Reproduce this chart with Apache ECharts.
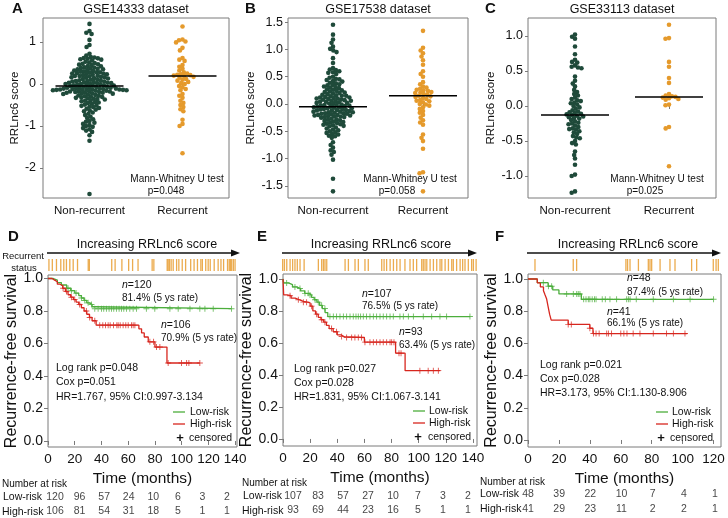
<!DOCTYPE html>
<html><head><meta charset="utf-8">
<script src="https://cdn.jsdelivr.net/npm/echarts@6/dist/echarts.min.js"></script>
<style>html,body{margin:0;padding:0;background:#fff}#c{width:728px;height:518px}</style>
</head><body><div id="c"></div>
<script>
// ---------------- DATA ----------------
const topCategories = ['Non-recurrent', 'Recurrent'];
const aNonRec = [1.43,1.26,1.22,1.19,1.05,0.93,0.88,0.72,0.68,
 0.64,0.63,0.62,0.61,0.60,0.59,0.58,0.56,
 0.53,0.51,0.50,0.48,0.47,0.46,0.45,
 0.43,0.42,0.40,0.39,0.38,0.37,0.36,0.35,0.35,
 0.33,0.32,0.31,0.30,0.29,0.28,0.28,0.27,0.26,0.25,0.25,
 0.24,0.23,0.22,0.21,0.20,0.19,0.19,0.18,0.17,0.16,0.16,0.15,
 0.14,0.13,0.12,0.11,0.10,0.09,0.08,0.07,0.07,0.06,0.06,0.05,
 0.04,0.03,0.03,0.02,0.02,0.01,0.00,0.00,-0.01,-0.01,-0.02,-0.03,-0.03,-0.04,-0.04,-0.05,
 -0.06,-0.07,-0.07,-0.08,-0.08,-0.09,-0.09,-0.10,-0.10,-0.11,-0.11,-0.12,-0.12,-0.12,-0.13,-0.13,-0.13,-0.14,-0.14,-0.14,-0.15,-0.15,
 -0.16,-0.16,-0.17,-0.17,-0.18,-0.18,-0.19,-0.19,-0.20,-0.21,-0.21,-0.22,-0.23,-0.23,-0.24,-0.25,
 -0.26,-0.27,-0.28,-0.29,-0.30,-0.31,-0.32,-0.33,-0.34,-0.35,
 -0.36,-0.37,-0.39,-0.40,-0.41,-0.43,-0.44,-0.45,
 -0.47,-0.49,-0.51,-0.52,-0.54,-0.55,
 -0.57,-0.59,-0.61,-0.63,-0.65,
 -0.68,-0.71,-0.74,-0.78,-0.81,-0.84,
 -0.88,-0.90,-0.92,-0.95,-0.98,-1.00,-1.02,-1.05,
 -1.08,-1.11,-1.14,-1.22,-1.35,-2.62];
const aRec = [1.37,1.06,1.04,1.01,0.99,0.86,0.80,0.62,0.58,0.55,0.45,0.41,0.36,0.32,0.28,0.25,0.23,0.22,0.21,0.20,0.19,0.17,0.15,0.12,0.10,0.08,0.05,0.02,0.00,-0.05,-0.08,-0.12,-0.15,-0.24,-0.28,-0.33,-0.40,-0.45,-0.50,-0.55,-0.60,-0.65,-0.85,-0.95,-1.00,-1.65];
const bNonRec = [1.45,1.27,1.18,1.12,1.05,1.01,0.98,0.95,0.84,0.75,
 0.66,0.63,0.62,0.60,0.58,0.57,0.55,
 0.50,0.48,0.46,0.45,0.44,0.42,0.41,0.39,0.38,0.36,
 0.35,0.34,0.32,0.31,0.30,0.29,0.27,0.26,0.25,0.24,0.23,0.22,0.21,0.20,0.19,0.18,0.17,
 0.16,0.15,0.15,0.14,0.13,0.12,0.12,0.11,0.10,0.10,0.09,0.08,0.08,0.07,0.06,0.06,0.05,0.04,0.04,0.03,0.02,0.02,0.01,0.00,
 -0.01,-0.02,-0.02,-0.03,-0.03,-0.04,-0.05,-0.05,-0.06,-0.06,-0.07,-0.08,-0.08,-0.09,-0.09,-0.10,-0.11,-0.11,-0.12,-0.12,-0.13,-0.14,-0.14,-0.15,-0.15,-0.16,-0.17,-0.17,-0.18,-0.18,-0.19,-0.20,-0.20,-0.21,-0.21,-0.22,-0.23,-0.23,-0.24,-0.24,-0.25,
 -0.27,-0.28,-0.29,-0.30,-0.31,-0.32,-0.33,-0.34,-0.35,-0.36,-0.37,-0.38,-0.39,-0.40,-0.41,-0.43,-0.45,
 -0.47,-0.48,-0.50,-0.52,-0.53,-0.55,-0.56,-0.58,-0.59,-0.62,
 -0.70,-0.75,-0.80,-0.85,-0.88,-0.93,-1.02,-1.37,-1.60];
const bRec = [1.34,1.03,0.98,0.93,0.87,0.80,0.72,0.60,0.55,0.50,0.40,0.36,0.32,0.30,0.28,0.26,0.25,0.24,0.22,0.21,0.20,0.18,0.17,0.15,0.14,0.13,0.11,0.09,0.07,0.06,0.05,0.03,0.00,-0.01,-0.03,-0.06,-0.09,-0.13,-0.16,-0.20,-0.25,-0.30,-0.34,-0.38,-0.56,-0.62,-0.68,-0.82,-1.25,-1.27,-1.60];
const cNonRec = [1.02,0.99,0.96,0.85,0.74,0.66,0.63,0.62,0.58,0.56,0.55,0.54,0.42,0.36,0.32,0.28,0.23,0.20,0.17,0.15,0.12,0.10,0.08,0.07,0.05,0.04,0.02,0.00,-0.02,-0.04,-0.06,-0.08,-0.09,-0.10,-0.11,-0.12,-0.13,-0.14,-0.15,-0.16,-0.17,-0.18,-0.20,-0.22,-0.24,-0.25,-0.26,-0.28,-0.30,-0.32,-0.33,-0.34,-0.36,-0.38,-0.40,-0.43,-0.45,-0.46,-0.50,-0.53,-0.55,-0.65,-0.70,-0.75,-0.84,-0.98,-1.00,-1.22,-1.24];
const cRec = [1.16,0.97,0.96,0.63,0.56,0.40,0.33,0.17,0.15,0.14,0.13,0.12,0.11,0.10,0.09,0.02,0.01,-0.30,-0.32,-0.86];
const aMeans = [-0.05, 0.19];
const bMeans = [-0.05, 0.15];
const cMeans = [-0.13, 0.13];
const aTicks = [-2, -1, 0, 1];
const bTicks = [-1.5, -1, -0.5, 0, 0.5, 1, 1.5];
const cTicks = [-1, -0.5, 0, 0.5, 1];

const kmYTicks = [0, 0.2, 0.4, 0.6, 0.8, 1.0];
const dXTicks = [0, 20, 40, 60, 80, 100, 120, 140];
const eXTicks = [0, 20, 40, 60, 80, 100, 120, 140];
const fXTicks = [0, 20, 40, 60, 80, 100, 120];

// Kaplan-Meier curves (time, survival) and censor times
const dLowT = [0,4,7,10,14,17,20,23,25,27,29,31,33,35,137.3];
const dLowS = [1,0.99,0.975,0.96,0.94,0.925,0.91,0.895,0.88,0.865,0.85,0.84,0.826,0.814,0.814];
const dLowCens = [15,17.5,21,25,27.5,30,32.5,35,37.5,40,41.7,43.7,45.7,47.5,49.2,51.2,53.2,55,56.7,58.7,61.2,63.7,66.2,73.6,79.9,91.2,97.4,106.2,113.6,117.4,123.6,137.3];
const dHighT = [0,3,5,7,9,11,13,15,17,19,21,23,25,27,29,31,33,36,68,70,72,75,80,89,113.6];
const dHighS = [1,0.99,0.98,0.965,0.955,0.94,0.92,0.9,0.885,0.87,0.855,0.84,0.82,0.8,0.78,0.76,0.74,0.713,0.69,0.665,0.64,0.61,0.578,0.48,0.48];
const dHighCens = [11.3,13.8,17.5,20,23.7,28.7,31.2,35,38.7,41,43,45,46.5,49,51.5,52.5,54,56.2,58.2,60,62.5,63.7,65,76.2,79,81.2,83.7,89.9,99.9,103.7,105.4,113.6];

const eLowT = [0,0.5,4,7,10,13,16,19,21,23,25,27,29,31,33,138];
const eLowS = [1,0.975,0.965,0.95,0.94,0.925,0.91,0.9,0.885,0.87,0.855,0.835,0.815,0.79,0.765,0.765];
const eLowCens = [2.7,8.8,12.5,16.2,18.6,19.9,23.6,26,28.5,30.9,34.6,37.1,39.5,42,44.5,46.9,49.4,51.8,53.8,55.5,57.2,59.2,61.6,64.1,66.6,69,71.5,73.9,76.4,78.9,81.3,86.2,88.7,92.4,96.1,103.4,109.6,115.7,120.6,137.8];
const eHighT = [0,0.5,3,6,9,12,15,18,20,22,24,26,28,30,32,34,37,40,43,45,60,83,90,116];
const eHighS = [1,0.9,0.895,0.88,0.87,0.86,0.855,0.85,0.83,0.8,0.78,0.76,0.745,0.73,0.71,0.69,0.67,0.65,0.64,0.634,0.605,0.536,0.427,0.427];
const eHighCens = [5.2,11.3,15,17.4,21.1,24.8,28.5,30.9,35.8,39.5,43.2,46.9,50.6,53,55.5,57.9,60.4,64.1,66.6,69,71.5,73.9,76.4,78.9,80.1,81.8,85.5,87,100.9,107,110.8,114.5];

const fLowT = [0,6,13,16,20,34.5,120];
const fLowS = [1,0.977,0.955,0.932,0.907,0.874,0.874];
const fLowCens = [9.9,13.2,15.3,25,29.3,31.5,32.5,33.6,36,37.5,39,40,41.5,43,44,48,50,53,57.3,63.8,64.9,66,70,81,94,104.8,120];
const fHighT = [0,6,8,10,11,12,13,14,15,26,40,42,103];
const fHighS = [1,0.976,0.951,0.927,0.902,0.878,0.829,0.78,0.745,0.718,0.694,0.661,0.661];
const fHighCens = [26,28,40,42.3,44,46,50.9,52,54,60,62,64,68,72.4,81,89.6,94,101.5];

// recurrent-status strip (position along increasing score, %)
const dStatus = [0.5,2.3,4.5,6.8,8.4,9.8,11.6,13.4,15.7,21.4,22,33.9,35.7,39.3,42.9,45,47.9,55.4,56.3,63.4,63.9,64.6,65.5,66.6,68.4,69.6,71.4,73.2,75.9,77.7,79.5,81.3,82.1,83.9,85.2,86.3,88.4,90.5,92,93.4,95.5,96.4,97,97.7,98.6,99.5];
const eStatus = [0.5,1.4,2.6,4.3,5.6,6.8,8,9.4,11.5,18.8,20.5,21.4,22.2,23.1,32.5,34.2,37.6,39.3,42.7,44.4,51.3,52.5,53.8,55.6,57.3,59,60.7,63.2,65.8,67.5,69.2,71.8,72.6,73.5,74.4,76.1,77.8,79.5,81.2,82.1,83.8,85.5,87.2,88,89.7,91.5,92.8,94,95.7,97.4,98.3,99.7];
const fStatus = [0.9,21.4,23.2,49.6,50.5,51.8,56.3,61.6,62.5,63.4,67.9,73.2,75.9,84.8,87.5,96.4,97.9,99.1];

// number at risk
const dRiskTimes = [0,20,40,60,80,100,120,140];
const dLowRisk = [120,96,57,24,10,6,3,2];
const dHighRisk = [106,81,54,31,18,5,1,1];
const eRiskTimes = [0,20,40,60,80,100,120,140];
const eLowRisk = [107,83,57,27,10,7,3,2];
const eHighRisk = [93,69,44,23,16,5,1,1];
const fRiskTimes = [0,20,40,60,80,100,120];
const fLowRisk = [48,39,22,10,7,4,1];
const fHighRisk = [41,29,23,11,2,2,1];

// ---------------- STYLE / LAYOUT ----------------
const FONT = '"Liberation Sans", Arial, Helvetica, sans-serif';
const FRAME = '#7a7a7a';
const INK = '#111';
const DOT_COLORS = ['#1f4a3a', '#e59a2c'];
const GREEN = '#4cae3c', RED = '#d7261e', STRIP = '#e9a23b';
const DOT = 4.6, DOT_GAP = 3.6, MEAN_HALF_PX = 34;
const PLUS = 'path://M3.4,0H4.6V3.4H8V4.6H4.6V8H3.4V4.6H0V3.4H3.4Z';

const opt = {animation:false, backgroundColor:'#fff', grid:[], xAxis:[], yAxis:[], series:[], graphic:{elements:[]}};
const GR = opt.graphic.elements;

function T(x, y, text, size, o) {
  o = o || {};
  const st = {text, fontSize:size, fontFamily:FONT, fontWeight:o.bold?'bold':'normal', fill:o.color||INK,
    align:o.align||'left', verticalAlign:'middle', textAlign:o.align||'left', textVerticalAlign:'middle'};
  if (o.rich) st.rich = o.rich;
  GR.push({type:'text', x, y, silent:true, z:50, style:st});
}
function Lseg(x1,y1,x2,y2,color,w){ GR.push({type:'line', silent:true, z:50, shape:{x1,y1,x2,y2}, style:{stroke:color, lineWidth:w}}); }

function swarm(vals, center, pxY, pxX, d) {
  const pts = vals.map(v => ({v, y:v*pxY})).sort((a,b)=>b.v-a.v);
  const placed = [], out = [];
  pts.forEach(p => {
    const cands = [0];
    placed.forEach(q => { const dy = Math.abs(q.y-p.y); if (dy < d) { const dx = Math.sqrt(d*d-dy*dy); cands.push(q.x+dx, q.x-dx); } });
    cands.sort((a,b)=>Math.abs(a)-Math.abs(b) || a-b);
    let x = 0;
    for (const c of cands) { if (placed.every(q => (q.x-c)*(q.x-c)+(q.y-p.y)*(q.y-p.y) >= d*d-1e-6)) { x = c; break; } }
    placed.push({x, y:p.y});
    out.push([center + x/pxX, p.v]);
  });
  return out;
}
function survAt(T_, S_, t) { let s = S_[0]; for (let i=0;i<T_.length;i++){ if (T_[i] <= t) s = S_[i]; } return s; }

// ---------------- TOP PANELS ----------------
const tops = [
  {vals:[aNonRec,aRec], means:aMeans, ticks:aTicks, dec:0, title:'GSE14333 dataset', p:'p=0.048', letter:'A',
   L:{left:43, top:18, width:186, height:180, ymin:-2.714, ymax:1.571, nameGap:20, lm:7, letterX:12, mwX:177, pX:166}},
  {vals:[bNonRec,bRec], means:bMeans, ticks:bTicks, dec:1, title:'GSE17538 dataset', p:'p=0.058', letter:'B',
   L:{left:288, top:18, width:180, height:180, ymin:-1.722, ymax:1.575, nameGap:31, lm:5, letterX:245, mwX:410, pX:397}},
  {vals:[cNonRec,cRec], means:cMeans, ticks:cTicks, dec:1, title:'GSE33113 dataset', p:'p=0.025', letter:'C',
   L:{left:528, top:18, width:188, height:180, ymin:-1.314, ymax:1.257, nameGap:31, lm:5, letterX:485, mwX:657, pX:645}}
];
tops.forEach(tp => {
  const L = tp.L;
  const gi = opt.grid.length;
  opt.grid.push({left:L.left, top:L.top, width:L.width, height:L.height, show:true, borderColor:FRAME, borderWidth:1});
  opt.xAxis.push({type:'category', gridIndex:gi, data:topCategories, boundaryGap:true, axisLine:{show:false},
    axisTick:{show:true, alignWithLabel:true, length:3, lineStyle:{color:FRAME}},
    axisLabel:{interval:0, showMinLabel:true, showMaxLabel:true, hideOverlap:false, fontSize:11.5, fontFamily:FONT, color:INK, margin:7},
    splitLine:{show:false}});
  const xv = opt.xAxis.length;
  opt.xAxis.push({type:'value', gridIndex:gi, min:0, max:2, show:false});
  const yi = opt.yAxis.length;
  opt.yAxis.push({type:'value', gridIndex:gi, min:L.ymin, max:L.ymax, axisLine:{show:false}, splitLine:{show:false},
    axisTick:{show:true, length:3, customValues:tp.ticks, lineStyle:{color:FRAME}},
    axisLabel:{customValues:tp.ticks, formatter:v => tp.dec ? Number(v).toFixed(tp.dec) : String(Math.round(v)), fontSize:12.5, fontFamily:FONT, color:INK, margin:L.lm},
    name:'RRLnc6 score', nameLocation:'middle', nameGap:L.nameGap, nameTextStyle:{fontSize:11.5, fontFamily:FONT, color:INK}});
  const pxY = L.height/(L.ymax-L.ymin), pxX = L.width/2;
  tp.vals.forEach((arr,k) => {
    opt.series.push({type:'scatter', xAxisIndex:xv, yAxisIndex:yi, data:swarm(arr, 0.5+k, pxY, pxX, DOT_GAP), symbolSize:DOT, itemStyle:{color:DOT_COLORS[k], opacity:1}, z:2, silent:true});
    const hw = MEAN_HALF_PX/pxX;
    opt.series.push({type:'line', xAxisIndex:xv, yAxisIndex:yi, data:[[0.5+k-hw, tp.means[k]],[0.5+k+hw, tp.means[k]]], symbol:'none', lineStyle:{color:'#000', width:1.5}, z:3, silent:true});
  });
  T(L.left+L.width/2, 10, tp.title, 12.5, {align:'center'});
  T(L.letterX, 9, tp.letter, 15, {bold:true});
  T(L.mwX, 179, 'Mann-Whitney U test', 10, {align:'center'});
  T(L.pX, 191, tp.p, 10, {align:'center'});
});

// ---------------- BOTTOM PANELS ----------------
const kms = [
  {letter:'D', xTicks:dXTicks, low:[dLowT,dLowS,dLowCens], high:[dHighT,dHighS,dHighCens], status:dStatus,
   risk:[dRiskTimes,dLowRisk,dHighRisk],
   txt:{n1:'120', r1:'81.4% (5 ys rate)', n2:'106', r2:'70.9% (5 ys rate)', lr:'Log rank p=0.048', cox:'Cox p=0.051', hr:'HR=1.767, 95% CI:0.997-3.134'},
   L:{left:48, top:275, width:189, height:172, xmax:141.4, ymin:-0.037, ymax:1.0215,
      strip:{left:48, width:188}, arrow:[47,240], inc:147, letterX:8,
      a1:[122,285,298], a2:[161,325,338], stats:[56,368,382.5,396.7], leg:[173,190,412,424,438,180,189],
      table:{left:55, width:172, top:489.5, tmax:140}, tabTxt:[2,484,3,497,2,512]}},
  {letter:'E', xTicks:eXTicks, low:[eLowT,eLowS,eLowCens], high:[eHighT,eHighS,eHighCens], status:eStatus,
   risk:[eRiskTimes,eLowRisk,eHighRisk],
   txt:{n1:'107', r1:'76.5% (5 ys rate)', n2:'93', r2:'63.4% (5 ys rate)', lr:'Log rank p=0.027', cox:'Cox p=0.028', hr:'HR=1.831, 95% CI:1.067-3.141'},
   L:{left:283, top:274, width:194, height:172, xmax:143, ymin:-0.044, ymax:1.031,
      strip:{left:281.7, width:195}, arrow:[282,477], inc:381, letterX:257,
      a1:[362,294,306], a2:[399,332,345], stats:[294,369.3,383.3,397.3], leg:[413,429,411,423,437,418,428],
      table:{left:293, width:175, top:488.3, tmax:140}, tabTxt:[242,483,243,496,242,511.3]}},
  {letter:'F', xTicks:fXTicks, low:[fLowT,fLowS,fLowCens], high:[fHighT,fHighS,fHighCens], status:fStatus,
   risk:[fRiskTimes,fLowRisk,fHighRisk],
   txt:{n1:'48', r1:'87.4% (5 ys rate)', n2:'41', r2:'66.1% (5 ys rate)', lr:'Log rank p=0.021', cox:'Cox p=0.028', hr:'HR=3.173, 95% CI:1.130-8.906'},
   L:{left:528, top:274, width:193, height:173, xmax:124.8, ymin:-0.0435, ymax:1.031,
      strip:{left:533.3, width:186.7}, arrow:[527,721], inc:628, letterX:495,
      a1:[627,278,292], a2:[607,312,323], stats:[540,365,379.3,393.3], leg:[656,672,412,424,438,661,670],
      table:{left:528, width:187, top:486.3, tmax:120}, tabTxt:[480,482,480,494,480,509.3]}}
];

kms.forEach((km, idx) => {
  const L = km.L;
  const gi = opt.grid.length;
  opt.grid.push({left:L.left, top:L.top, width:L.width, height:L.height, show:true, borderColor:FRAME, borderWidth:1});
  const xi = opt.xAxis.length;
  opt.xAxis.push({type:'value', gridIndex:gi, min:0, max:L.xmax, axisLine:{show:false}, splitLine:{show:false},
    axisTick:{show:true, length:4, customValues:km.xTicks, lineStyle:{color:FRAME}},
    axisLabel:{customValues:km.xTicks, fontSize:13.5, fontFamily:FONT, color:INK, margin:5},
    name:'Time (months)', nameLocation:'middle', nameGap:24, nameTextStyle:{fontSize:15.5, fontFamily:FONT, color:INK}});
  const yi = opt.yAxis.length;
  opt.yAxis.push({type:'value', gridIndex:gi, min:L.ymin, max:L.ymax, axisLine:{show:false}, splitLine:{show:false},
    axisTick:{show:true, length:4, customValues:kmYTicks, lineStyle:{color:FRAME}},
    axisLabel:{customValues:kmYTicks, formatter:v=>Number(v).toFixed(1), fontSize:14, fontFamily:FONT, color:INK, margin:5},
    name:'Recurrence-free survival', nameLocation:'middle', nameGap:25, nameTextStyle:{fontSize:16, fontFamily:FONT, color:INK}});
  [[km.low, GREEN],[km.high, RED]].forEach(([c, col]) => {
    const [Ts, Ss, Cs] = c;
    opt.series.push({type:'line', xAxisIndex:xi, yAxisIndex:yi, step:'end', symbol:'none', data:Ts.map((t,i)=>[t,Ss[i]]),
      lineStyle:{color:col, width:1.3}, z:3, silent:true});
    opt.series.push({type:'scatter', xAxisIndex:xi, yAxisIndex:yi, symbol:PLUS, symbolSize:6,
      data:Cs.map(t=>[t, survAt(Ts,Ss,t)]), itemStyle:{color:col}, z:4, silent:true});
  });
  const gs = opt.grid.length;
  opt.grid.push({left:L.strip.left, width:L.strip.width, top:259, height:12, show:false});
  const xs = opt.xAxis.length;
  opt.xAxis.push({type:'value', gridIndex:gs, min:0, max:100, show:false});
  const ys = opt.yAxis.length;
  opt.yAxis.push({type:'value', gridIndex:gs, min:0, max:1, show:false});
  opt.series.push({type:'scatter', xAxisIndex:xs, yAxisIndex:ys, symbol:'rect', symbolSize:[1.3,12],
    data:km.status.map(p=>[p,0.5]), itemStyle:{color:STRIP, opacity:0.9}, silent:true});
  const gt = opt.grid.length;
  opt.grid.push({left:L.table.left, width:L.table.width, top:L.table.top, height:30, show:false});
  const xt = opt.xAxis.length;
  opt.xAxis.push({type:'value', gridIndex:gt, min:0, max:L.table.tmax, show:false});
  const yt = opt.yAxis.length;
  opt.yAxis.push({type:'category', gridIndex:gt, data:['Low-risk','High-risk'], inverse:true, show:false});
  const [rt, rl, rh] = km.risk;
  const tdata = [];
  rt.forEach((t,i)=>{ tdata.push([t,0,rl[i]]); tdata.push([t,1,rh[i]]); });
  opt.series.push({type:'scatter', xAxisIndex:xt, yAxisIndex:yt, symbolSize:1, data:tdata, itemStyle:{color:'rgba(0,0,0,0)'},
    label:{show:true, position:'inside', formatter:p=>String(p.value[2]), fontSize:10.5, fontFamily:FONT, color:INK}, silent:true});

  T(L.letterX, 237, km.letter, 15, {bold:true});
  T(L.inc, 245, 'Increasing RRLnc6 score', 12.5, {align:'center'});
  Lseg(L.arrow[0], 253, L.arrow[1]-4, 253, '#111', 1.3);
  GR.push({type:'polygon', silent:true, z:50, shape:{points:[[L.arrow[1],253],[L.arrow[1]-9,249.5],[L.arrow[1]-9,256.5]]}, style:{fill:'#111'}});
  const rich = {i:{fontStyle:'italic', fontSize:10.5, fontFamily:FONT, fill:INK}};
  T(L.a1[0], L.a1[1], '{i|n}=' + km.txt.n1, 10.5, {rich});
  T(L.a1[0], L.a1[2], km.txt.r1, 10);
  T(L.a2[0], L.a2[1], '{i|n}=' + km.txt.n2, 10.5, {rich});
  T(L.a2[0], L.a2[2], km.txt.r2, 10);
  T(L.stats[0], L.stats[1], km.txt.lr, 10.5);
  T(L.stats[0], L.stats[2], km.txt.cox, 10.5);
  T(L.stats[0], L.stats[3], km.txt.hr, 10.5);
  const lg = L.leg;
  Lseg(lg[0], lg[2], lg[0]+12, lg[2], GREEN, 1.3);
  T(lg[1], lg[2], 'Low-risk', 10.5);
  Lseg(lg[0], lg[3], lg[0]+12, lg[3], RED, 1.3);
  T(lg[1], lg[3], 'High-risk', 10.5);
  T(lg[5], lg[4], '+', 13, {align:'center', bold:true});
  T(lg[6], lg[4], 'censored', 10.5);
  const tt = L.tabTxt;
  T(tt[0], tt[1], 'Number at risk', 10);
  T(tt[2], tt[3], 'Low-risk', 10.5);
  T(tt[4], tt[5], 'High-risk', 10.5);
  if (idx === 0) {
    T(23, 256, 'Recurrent', 9.5, {align:'center'});
    T(24, 268, 'status', 9.5, {align:'center'});
  }
});

const chart = echarts.init(document.getElementById('c'), null, {renderer:'canvas', width:728, height:518});
chart.setOption(opt);
</script></body></html>
